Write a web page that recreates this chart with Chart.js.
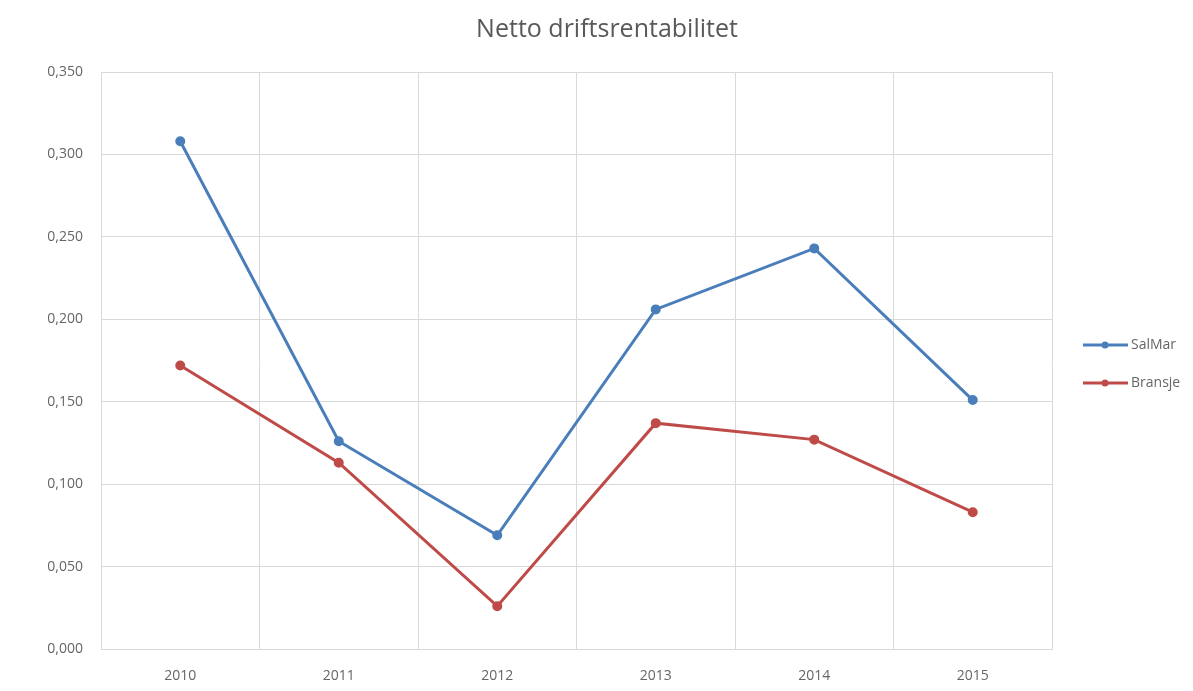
<!DOCTYPE html>
<html>
<head>
<meta charset="utf-8">
<script src="https://cdn.jsdelivr.net/npm/chart.js@4"></script>
<style>
  html, body { margin: 0; padding: 0; background: #fff; }
  #wrap { width: 1193px; height: 691px; }
</style>
</head>
<body>
<div id="wrap"><canvas id="lineChart" width="1193" height="691"></canvas></div>
<script>
// Chart data
const years = ['2010', '2011', '2012', '2013', '2014', '2015'];
const salmar = [0.308, 0.126, 0.069, 0.206, 0.243, 0.151];
const bransje = [0.172, 0.113, 0.026, 0.137, 0.127, 0.083];
const seriesNames = ['SalMar', 'Bransje'];
const yTicks = [0, 0.05, 0.1, 0.15, 0.2, 0.25, 0.3, 0.35];

const blue = '#4a7ebb';
const red = '#be4b48';
const grey = '#666666';
const gridColor = '#d9d9d9';
const font = "'Open Sans', 'Liberation Sans', sans-serif";

// legend drawn at right, like the Excel one
const sideLegend = {
  id: 'sideLegend',
  afterDraw(chart) {
    const ctx = chart.ctx;
    const rows = [345, 383];
    ctx.save();
    chart.data.datasets.forEach((ds, i) => {
      const y = rows[i];
      ctx.strokeStyle = ds.borderColor;
      ctx.lineWidth = 3;
      ctx.beginPath();
      ctx.moveTo(1083, y);
      ctx.lineTo(1128, y);
      ctx.stroke();
      ctx.fillStyle = ds.borderColor;
      ctx.beginPath();
      ctx.arc(1105, y, 3.5, 0, Math.PI * 2);
      ctx.fill();
      ctx.fillStyle = grey;
      ctx.font = '14px ' + font;
      ctx.textBaseline = 'middle';
      ctx.fillText(ds.label, 1131, y);
    });
    ctx.restore();
  }
};

document.addEventListener('DOMContentLoaded', () => {
  const ctx = document.getElementById('lineChart').getContext('2d');
  new Chart(ctx, {
    type: 'line',
    data: {
      labels: years,
      datasets: [
        {
          label: seriesNames[0],
          data: salmar,
          borderColor: blue,
          backgroundColor: blue,
          borderWidth: 3,
          pointRadius: 3.5,
          pointBackgroundColor: blue,
          pointBorderColor: blue,
          tension: 0
        },
        {
          label: seriesNames[1],
          data: bransje,
          borderColor: red,
          backgroundColor: red,
          borderWidth: 3,
          pointRadius: 3.5,
          pointBackgroundColor: red,
          pointBorderColor: red,
          tension: 0
        }
      ]
    },
    options: {
      responsive: false,
      animation: false,
      layout: { padding: { left: 21, right: 0, top: 0, bottom: 0 } },
      plugins: {
        legend: { display: false },
        tooltip: { enabled: false },
        title: {
          display: true,
          text: 'Netto driftsrentabilitet',
          color: '#595959',
          font: { family: font, size: 25, weight: 'normal' },
          padding: { top: 15, bottom: 27 }
        }
      },
      scales: {
        x: {
          offset: true,
          grid: { offset: true, color: gridColor, drawTicks: false },
          border: { color: gridColor },
          ticks: { color: grey, font: { family: font, size: 14 }, padding: 19 },
          afterFit(scale) { scale.height = 42; }
        },
        y: {
          min: 0,
          max: 0.35,
          grid: { color: gridColor, drawTicks: false },
          border: { display: true, color: gridColor },
          afterBuildTicks(scale) { scale.ticks = yTicks.map(v => ({ value: v })); },
          ticks: {
            color: grey,
            font: { family: font, size: 14 },
            padding: 18,
            callback: v => v.toFixed(3).replace('.', ',')
          },
          afterFit(scale) { scale.width = 80; }
        },
        // empty axis that keeps room for the legend on the right
        side: {
          position: 'right',
          display: true,
          grid: { display: false },
          border: { display: false },
          ticks: { display: false },
          afterFit(scale) { scale.width = 141; }
        }
      }
    },
    plugins: [sideLegend]
  });
});
</script>
</body>
</html>
